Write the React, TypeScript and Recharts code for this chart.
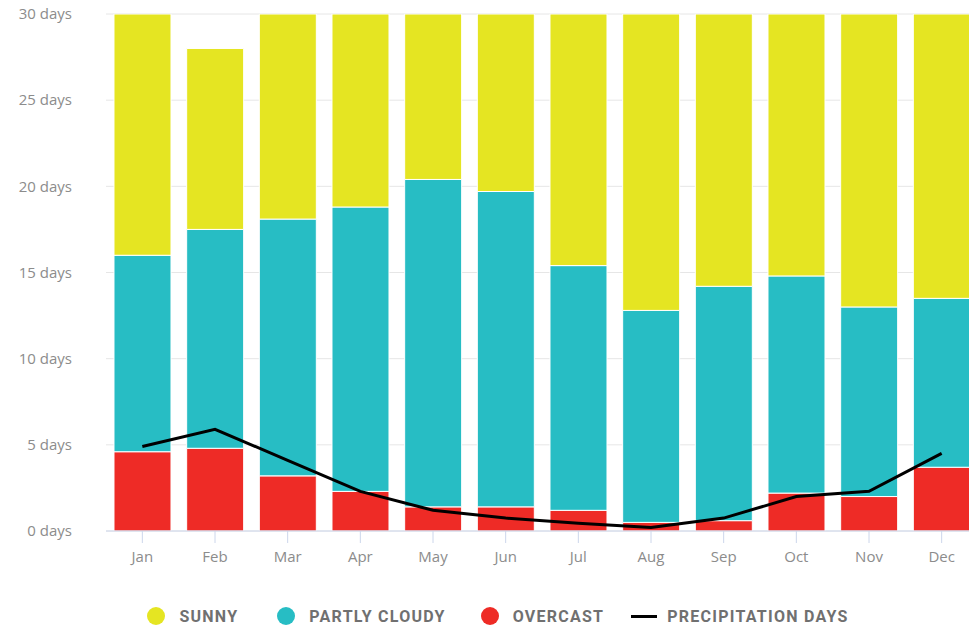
import {
  ComposedChart,
  Bar,
  Line,
  XAxis,
  YAxis,
  CartesianGrid,
  Legend,
} from 'recharts';

const months = ['Jan', 'Feb', 'Mar', 'Apr', 'May', 'Jun', 'Jul', 'Aug', 'Sep', 'Oct', 'Nov', 'Dec'];
const overcast = [4.6, 4.8, 3.2, 2.3, 1.4, 1.4, 1.2, 0.5, 0.6, 2.2, 2.0, 3.7];
const partlyCloudy = [11.4, 12.7, 14.9, 16.5, 19.0, 18.3, 14.2, 12.3, 13.6, 12.6, 11.0, 9.8];
const sunny = [15.0, 10.5, 12.9, 11.2, 10.6, 10.3, 15.6, 18.2, 15.8, 16.2, 17.0, 17.5];
const precipitation = [4.9, 5.9, 4.1, 2.3, 1.2, 0.75, 0.45, 0.2, 0.75, 2.0, 2.3, 4.5];
const yTicks = [0, 5, 10, 15, 20, 25, 30];

const data = months.map((m, i) => ({
  month: m,
  overcast: overcast[i],
  partly: partlyCloudy[i],
  sunny: sunny[i],
  precip: precipitation[i],
}));

const COLORS = {
  sunny: '#e5e522',
  partly: '#27bdc4',
  overcast: '#ee2b26',
};

const legendItems = [
  { label: 'SUNNY', color: COLORS.sunny, type: 'circle', gap: 39 },
  { label: 'PARTLY CLOUDY', color: COLORS.partly, type: 'circle', gap: 35 },
  { label: 'OVERCAST', color: COLORS.overcast, type: 'circle', gap: 27 },
  { label: 'PRECIPITATION DAYS', color: '#000', type: 'line', gap: 0 },
];

function WeatherLegend() {
  return (
    <div
      style={{
        display: 'flex',
        justifyContent: 'center',
        alignItems: 'center',
        height: 57,
        paddingTop: 33,
        paddingLeft: 18,
        boxSizing: 'border-box',
        fontFamily: 'Roboto, sans-serif',
        fontWeight: 700,
        fontSize: 16,
        letterSpacing: 1.25,
        color: '#707070',
      }}
    >
      {legendItems.map((item) => (
        <div key={item.label} style={{ display: 'flex', alignItems: 'center', marginRight: item.gap }}>
          {item.type === 'circle' ? (
            <span
              style={{
                width: 18,
                height: 18,
                borderRadius: 9,
                background: item.color,
                display: 'inline-block',
                marginRight: 14,
              }}
            />
          ) : (
            <span
              style={{
                width: 26,
                height: 3,
                background: item.color,
                display: 'inline-block',
                marginRight: 10,
              }}
            />
          )}
          <span>{item.label}</span>
        </div>
      ))}
    </div>
  );
}

export default function App() {
  const tickStyle = { fill: '#8c8c8c', fontSize: 15, fontFamily: '"Open Sans", sans-serif' };
  return (
    <div style={{ position: 'absolute', left: 0, top: 0, width: 969, height: 628, overflow: 'hidden', background: '#fff' }}>
      <ComposedChart
        width={980}
        height={628}
        data={data}
        margin={{ top: 14, right: 2, left: 0, bottom: 0 }}
        barCategoryGap="11%"
      >
        <CartesianGrid vertical={false} stroke="#e6e6e6" />
        <XAxis
          dataKey="month"
          height={40}
          tick={tickStyle}
          tickSize={12}
          tickMargin={8}
          stroke="#ccd6eb"
          tickLine={{ stroke: '#ccd6eb' }}
        />
        <YAxis
          width={106}
          domain={[0, 30]}
          allowDataOverflow
          ticks={yTicks}
          tickFormatter={(v) => `${v} days`}
          tick={tickStyle}
          axisLine={false}
          tickLine={false}
          tickSize={0}
          tickMargin={34}
        />
        <Legend verticalAlign="bottom" content={() => <WeatherLegend />} wrapperStyle={{ height: 57 }} />
        <Bar dataKey="overcast" stackId="w" fill={COLORS.overcast} stroke="#fff" strokeWidth={1} isAnimationActive={false} />
        <Bar dataKey="partly" stackId="w" fill={COLORS.partly} stroke="#fff" strokeWidth={1} isAnimationActive={false} />
        <Bar dataKey="sunny" stackId="w" fill={COLORS.sunny} stroke="#fff" strokeWidth={1} isAnimationActive={false} />
        <Line
          dataKey="precip"
          type="linear"
          stroke="#000"
          strokeWidth={3}
          dot={false}
          isAnimationActive={false}
        />
      </ComposedChart>
    </div>
  );
}
